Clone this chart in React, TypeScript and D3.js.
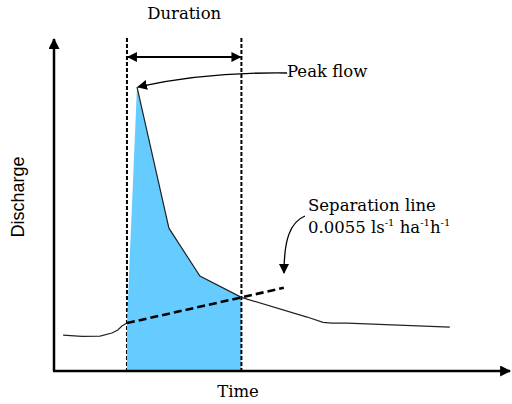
import React from "react";
import { scaleLinear, line, area, curveLinear } from "d3";

// hydrograph (time, discharge in arbitrary 0-100 units)
const hydroTime = [2, 6.1, 10.1, 12.7, 14, 14.9, 16, 18.2, 25.2, 32, 41.1, 55.5, 59, 61, 64.3, 86.8];
const hydroQ = [10.8, 10.4, 10.5, 11.4, 12.3, 13.5, 14.4, 85.3, 42.9, 28.5, 22.1, 16.2, 14.6, 14.4, 14.4, 13.2];

// baseflow separation line
const sepTime = [16, 41.1, 50.4];
const sepQ = [14.4, 22.1, 25];

// event duration (start / end of quick flow)
const durationStart = 16;
const durationEnd = 41.1;
const durationArrowQ = 94.3;

const W = 512;
const H = 404;

export default function App() {
  const x = scaleLinear().domain([0, 100]).range([54, 510]);
  const y = scaleLinear().domain([0, 100]).range([371, 38]);

  const hydro = hydroTime.map((t, i) => ({ t, q: hydroQ[i] }));
  const sep = sepTime.map((t, i) => ({ t, q: sepQ[i] }));
  const inEvent = hydro.filter((d) => d.t >= durationStart && d.t <= durationEnd);

  const peak = hydro.reduce((a, b) => (b.q > a.q ? b : a));
  // the rising limb is only shown as the edge of the shaded area
  const beforeEvent = hydro.filter((d) => d.t <= durationStart);
  const afterPeak = hydro.filter((d) => d.t >= peak.t);

  const lineGen = line<{ t: number; q: number }>()
    .x((d) => x(d.t))
    .y((d) => y(d.q))
    .curve(curveLinear);

  const areaGen = area<{ t: number; q: number }>()
    .x((d) => x(d.t))
    .y0(y(0))
    .y1((d) => y(d.q));

  const serif: React.CSSProperties = { fontFamily: "DejaVu Serif", fontSize: 16.5 };
  const sup: React.CSSProperties = { fontSize: 10 };

  return (
    <div style={{ position: "fixed", left: 0, top: 0 }}>
      <svg width={W} height={H} style={{ display: "block", background: "#fff" }}>
        <defs>
          <marker id="head" viewBox="0 0 10 10" refX="9" refY="5" markerWidth="10" markerHeight="10"
            markerUnits="userSpaceOnUse" orient="auto-start-reverse">
            <path d="M0,0 L10,5 L0,10 z" fill="#000" />
          </marker>
          <marker id="axhead" viewBox="0 0 10 10" refX="9" refY="5" markerWidth="13" markerHeight="11"
            markerUnits="userSpaceOnUse" orient="auto">
            <path d="M0,0 L10,5 L0,10 z" fill="#000" />
          </marker>
        </defs>

        {/* left duration line, under the fill */}
        <line x1={x(durationStart)} x2={x(durationStart)} y1={y(100)} y2={y(0)}
          stroke="#000" strokeWidth={2} strokeDasharray="4,2" />

        {/* quick flow area */}
        <path d={areaGen(inEvent) ?? ""} fill="#66ccff" />

        {/* right duration line */}
        <line x1={x(durationEnd)} x2={x(durationEnd)} y1={y(100)} y2={y(0)}
          stroke="#000" strokeWidth={2} strokeDasharray="4,2" />

        {/* hydrograph */}
        <path d={lineGen(beforeEvent) ?? ""} fill="none" stroke="#222" strokeWidth={1.2} />
        <path d={lineGen(afterPeak) ?? ""} fill="none" stroke="#222" strokeWidth={1.2} />

        {/* separation line */}
        <path d={lineGen(sep) ?? ""} fill="none" stroke="#000" strokeWidth={2.6} strokeDasharray="8,4" />

        {/* axes */}
        <line x1={x(0)} x2={x(0)} y1={y(0)} y2={y(100) + 1} stroke="#000" strokeWidth={2.5} markerEnd="url(#axhead)" />
        <line x1={x(0) - 1} x2={x(100)} y1={y(0)} y2={y(0)} stroke="#000" strokeWidth={2.5} markerEnd="url(#axhead)" />

        {/* duration arrow */}
        <line x1={x(durationStart) + 1} x2={x(durationEnd) - 1} y1={y(durationArrowQ)} y2={y(durationArrowQ)}
          stroke="#000" strokeWidth={2} markerStart="url(#head)" markerEnd="url(#head)" />
        <text x={(x(durationStart) + x(durationEnd)) / 2} y={19} textAnchor="middle" style={serif}>
          Duration
        </text>

        {/* peak flow annotation */}
        <path d={`M287,73 Q205,72 ${x(peak.t) + 1},${y(peak.q)}`} fill="none" stroke="#000" strokeWidth={1.3}
          markerEnd="url(#head)" />
        <text x={287} y={77} style={serif}>Peak flow</text>

        {/* separation line annotation */}
        <path d="M305,216 C290,222 284,240 284,273" fill="none" stroke="#000" strokeWidth={1.3} markerEnd="url(#head)" />
        <text x={308} y={211} style={serif}>Separation line</text>
        <text x={308} y={233} style={serif}>
          0.0055 ls
          <tspan style={sup} dy={-7}>-1</tspan>
          <tspan dy={7}> ha</tspan>
          <tspan style={sup} dy={-7}>-1</tspan>
          <tspan dy={7}>h</tspan>
          <tspan style={sup} dy={-7}>-1</tspan>
        </text>

        {/* axis titles */}
        <text x={238} y={397} textAnchor="middle" style={serif}>Time</text>
        <text transform="translate(24,197) rotate(-90)" textAnchor="middle"
          style={{ fontFamily: "Liberation Sans", fontSize: 18 }}>Discharge</text>
      </svg>
    </div>
  );
}
